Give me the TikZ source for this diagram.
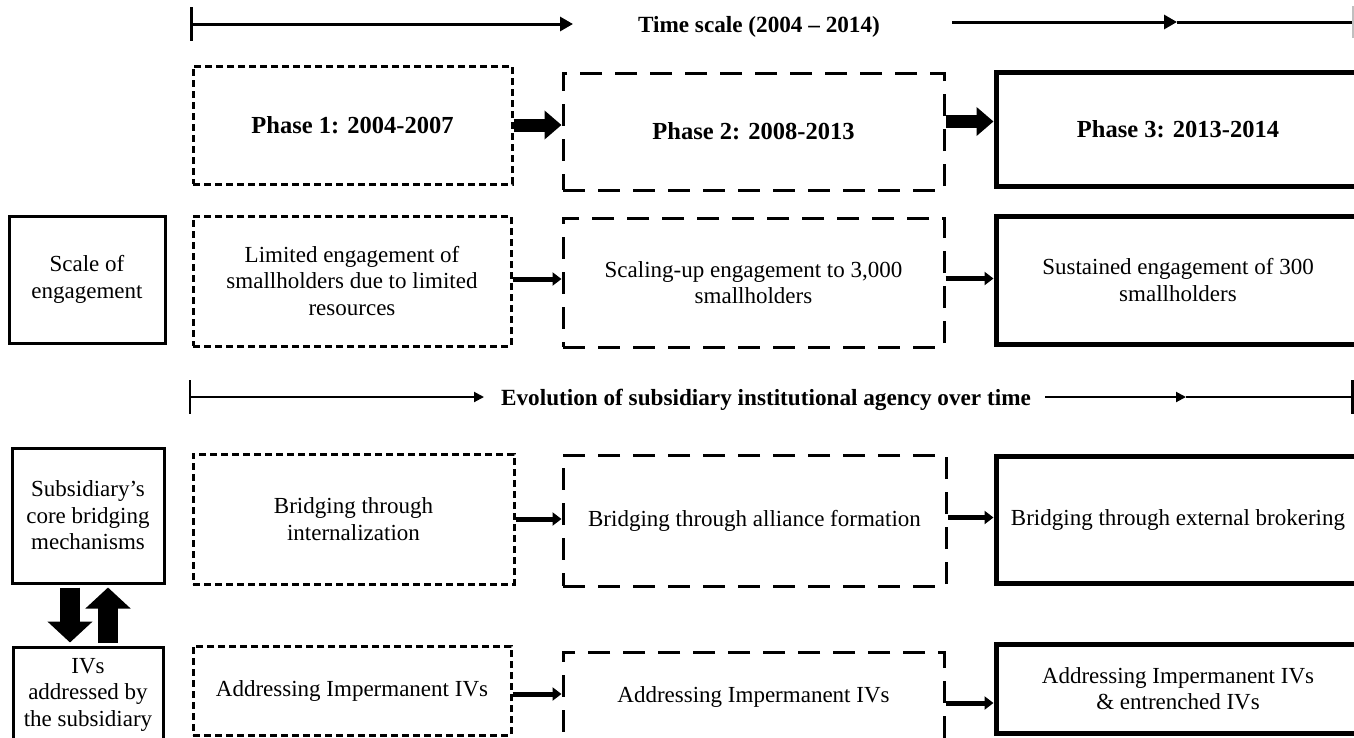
\documentclass[tikz,border=0pt]{standalone}
\usepackage{fontspec}
\setmainfont{Liberation Serif}
\usetikzlibrary{arrows.meta}
\begin{document}
\begin{tikzpicture}[x=1pt,y=-1pt,
  every node/.style={font=\fontsize{23}{26.5}\selectfont, align=center, inner sep=0pt},
  boldtxt/.style={font=\fontsize{23.2}{27}\selectfont\bfseries},
  phasetxt/.style={font=\fontsize{24.5}{28}\selectfont\bfseries},
  shortdash/.style={draw, line width=3pt, dash pattern=on 7pt off 4pt},
  longdash/.style={draw, line width=3pt, dash pattern=on 22pt off 13pt},
  solidthick/.style={draw, line width=5pt},
  labelbox/.style={draw, line width=3pt},
  timeline/.style={line width=3pt},
  timearrow/.style={line width=3pt, -{Triangle[length=13pt,width=14pt]}},
  evoline/.style={line width=2pt},
  evoarrow/.style={line width=2pt, -{Triangle[length=10pt,width=10pt]}},
  phasearrow/.style={line width=13pt, -{Triangle[length=17pt,width=28pt]}},
  rowarrow/.style={line width=5pt, -{Triangle[length=9pt,width=13pt]}},
  blockarrow/.style={line width=20pt, -{Triangle[length=21pt,width=44pt]}, shorten <=3pt, shorten >=3pt}
]
\useasboundingbox (0,0) rectangle (1354,737);
\fill[white] (0,0) rectangle (1354,737);

% time scale
\coordinate (ta) at (191,24);
\coordinate (tb) at (573,24);
\coordinate (tc) at (952,22);
\coordinate (tm) at (1177,22);
\coordinate (td) at (1353,22);
\draw[timeline] ([yshift=17pt]ta) -- ([yshift=-17pt]ta);
\draw[timearrow] (ta) -- (tb);
\node[boldtxt] (title) at (759,27) {Time scale (2004 \textendash{} 2014)};
\draw[timearrow] (tc) -- (tm);
\draw[timeline] (tm) -- (td);
\draw[line width=2pt, gray!50] ([yshift=16pt]td) -- ([yshift=-16pt]td);

% row 1: phases
\node[shortdash, phasetxt, minimum width=319pt, minimum height=118pt] (p1) at (352.5,125) {Phase 1: 2004-2007};
\node[longdash, phasetxt, minimum width=381pt, minimum height=117pt] (p2) at (753.5,131.5) {Phase 2: 2008-2013};
\node[solidthick, phasetxt, minimum width=364pt, minimum height=114pt] (p3) at (1178,129) {Phase 3: 2013-2014};
\draw[phasearrow] (p1.east) -- (p1.east -| p2.west);
\draw[phasearrow] ([yshift=10pt]p2.east) -- ([yshift=10pt]p2.east -| p3.west);

% row 2: scale of engagement
\node[labelbox, minimum width=156pt, minimum height=127pt] (sl) at (87,279.5) {Scale of\\engagement};
\node[shortdash, minimum width=318pt, minimum height=130pt] (s1) at (352,281) {Limited\ engagement\ of\\smallholders\ due to limited\\resources};
\node[longdash, minimum width=381pt, minimum height=129pt] (s2) at (753.5,282.5) {Scaling-up\ engagement\ to 3,000\\smallholders};
\node[solidthick, minimum width=364pt, minimum height=128pt] (s3) at (1178,280) {Sustained engagement\ of 300\\smallholders};
\draw[rowarrow] ([yshift=2pt]s1.east) -- ([yshift=2pt]s1.east -| s2.west);
\draw[rowarrow] ([yshift=4pt]s2.east) -- ([yshift=4pt]s2.east -| s3.west);

% evolution line
\coordinate (ea) at (190,397);
\coordinate (eb) at (484,397);
\coordinate (ec) at (1045,397);
\coordinate (em) at (1186,397);
\coordinate (ed) at (1352,397);
\draw[evoline] ([yshift=17pt]ea) -- ([yshift=-17pt]ea);
\draw[evoarrow] (ea) -- (eb);
\node[boldtxt] (evo) at (766,400) {Evolution of subsidiary institutional agency over time};
\draw[evoarrow] (ec) -- (em);
\draw[evoline] (em) -- (ed);
\draw[line width=3pt] ([yshift=17pt]ed) -- ([yshift=-17pt]ed);

% row 3: bridging mechanisms
\node[labelbox, minimum width=152pt, minimum height=135pt] (bl) at (88,515.5) {Subsidiary’s\\core bridging\\mechanisms};
\node[shortdash, minimum width=321pt, minimum height=130pt] (b1) at (353.5,519) {Bridging through\\internalization};
\node[longdash, minimum width=383pt, minimum height=131pt] (b2) at (754.5,520.5) {Bridging through alliance\ formation};
\node[solidthick, minimum width=364pt, minimum height=127pt] (b3) at (1178,519.5) {Bridging through external brokering};
\draw[rowarrow] (b1.east) -- (b1.east -| b2.west);
\draw[rowarrow] ([yshift=3pt]b2.east) -- ([yshift=3pt]b2.east -| b3.west);

% row 4: IVs addressed
\node[labelbox, minimum width=150pt, minimum height=95pt] (il) at (88,694.5) {IVs\\addressed\ by\\the subsidiary};
\node[shortdash, minimum width=318pt, minimum height=89pt] (a1) at (352,690.5) {Addressing\ Impermanent\ IVs};
\node[longdash, minimum width=381pt, minimum height=90pt] (a2) at (753.5,697) {Addressing\ Impermanent\ IVs};
\node[solidthick, minimum width=364pt, minimum height=89pt] (a3) at (1178,688.5) {Addressing\ Impermanent\ IVs\\\&\ entrenched\ IVs};
\draw[rowarrow] ([yshift=-3.5pt]a1.east) -- ([yshift=-3.5pt]a1.east -| a2.west);
\draw[rowarrow] ([yshift=-6pt]a2.east) -- ([yshift=-6pt]a2.east -| a3.west);

% block arrows between left boxes
\draw[blockarrow] ([xshift=-18pt]bl.south) -- ([xshift=-18pt]il.north);
\draw[blockarrow] ([xshift=20pt]il.north) -- ([xshift=20pt]bl.south);
\end{tikzpicture}
\end{document}
